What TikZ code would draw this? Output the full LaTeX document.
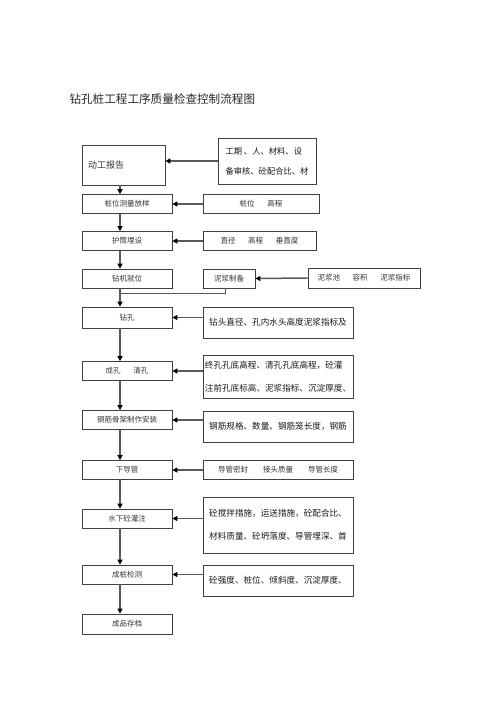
\documentclass[tikz,border=0pt]{standalone}
\usepackage{fontspec}
\newfontfamily\cjk{Noto Sans CJK SC}
\usetikzlibrary{arrows.meta}
\begin{document}
\begin{tikzpicture}[x=1pt,y=-1pt,
  proc/.style={draw=black!75, line width=0.7pt, minimum width=90pt, minimum height=19pt, inner sep=0pt, font=\cjk\fontsize{7.5}{9}\selectfont, text=black!80},
  chk/.style={draw=black!75, line width=0.7pt, minimum width=150pt, inner sep=0pt, align=left, font=\cjk\fontsize{8.6}{23}\selectfont, text=black!90},
  smallchk/.style={chk, font=\cjk\fontsize{7.5}{9}\selectfont, text=black!80},
  arr/.style={draw=black!65, line width=1.5pt, -{Triangle[length=5pt,width=5pt,color=black]}},
  lnk/.style={draw=black!65, line width=1pt}]
\useasboundingbox (0,0) rectangle (500,707);
\node[anchor=west, font=\cjk\fontsize{11.6}{14}\selectfont, text=black!85] (title) at (66,99) {钻孔桩工程工序质量检查控制流程图};
% left column
\node[proc, minimum width=83pt, minimum height=40pt, text width=71pt, align=left, font=\cjk\fontsize{9}{11}\selectfont] (s1) at (123.5,165) {动工报告};
\node[proc] (s2) at (127,204) {桩位测量放样};
\node[proc] (s3) at (127,241) {护筒埋设};
\node[proc] (s4) at (127,278.5) {钻机就位};
\node[proc, minimum height=21pt] (s5) at (127,317.5) {钻孔};
\node[proc] (s6) at (127,371) {成孔\hspace{1.7em}清孔};
\node[proc] (s7) at (127,420) {钢筋骨架制作安装};
\node[proc] (s8) at (127,470) {下导管};
\node[proc] (s9) at (127,518.5) {水下砼灌注};
\node[proc] (s10) at (127,574.5) {成桩检测};
\node[proc, minimum height=20pt] (s11) at (127,624) {成品存档};
% checks
\node[chk, minimum width=98pt, minimum height=46pt, font=\cjk\fontsize{8.3}{20}\selectfont] (c1) at (267,161) {工期~、人、材料、设\\备审核、砼配合比、材};
\node[smallchk, minimum width=116pt, minimum height=19pt] (c2) at (261,204) {桩位\hspace{1.7em}高程};
\node[smallchk, minimum width=113pt, minimum height=19pt] (c3) at (259.5,241) {直径\hspace{1.7em}高程\hspace{1.7em}垂直度};
\node[smallchk, minimum width=52pt, minimum height=19pt] (m4) at (229,278.5) {泥浆制备};
\node[smallchk, minimum width=112pt, minimum height=20pt] (c4) at (364,278) {泥浆池\hspace{1.7em}容积\hspace{1.7em}泥浆指标};
\node[chk, minimum height=31pt] (c5) at (278,322.5) {钻头直径、孔内水头高度泥浆指标及};
\node[chk, minimum height=43pt] (c6) at (278,376.5) {终孔孔底高程、清孔孔底高程，砼灌\\注前孔底标高、泥浆指标、沉淀厚度、};
\node[chk, minimum height=31pt] (c7) at (278,426.5) {钢筋规格、数量、钢筋笼长度，钢筋};
\node[smallchk, minimum height=19pt] (c8) at (278,470) {导管密封\hspace{2em}接头质量\hspace{2em}导管长度};
\node[chk, minimum height=56pt] (c9) at (278,525) {砼搅拌措施，运送措施，砼配合比、\\材料质量、砼坍落度、导管埋深、首};
\node[chk, minimum height=31pt] (c10) at (278,580.5) {砼强度、桩位、倾斜度、沉淀厚度、};
% main flow
\draw[arr] ([xshift=-3.5pt]s1.south) -- ([xshift=-7pt]s2.north);
\draw[arr] ([xshift=-7pt]s2.south) -- ([xshift=-7pt]s3.north);
\draw[arr] ([xshift=-7pt]s3.south) -- ([xshift=-7pt]s4.north);
\draw[arr] ([xshift=-7pt]s4.south) -- ([xshift=-7pt]s5.north);
\draw[arr] ([xshift=-7pt]s5.south) -- ([xshift=-7pt]s6.north);
\draw[arr] ([xshift=-7pt]s6.south) -- ([xshift=-7pt]s7.north);
\draw[arr] ([xshift=-7pt]s7.south) -- ([xshift=-7pt]s8.north);
\draw[arr] ([xshift=-7pt]s8.south) -- ([xshift=-7pt]s9.north);
\draw[arr] ([xshift=-7pt]s9.south) -- ([xshift=-7pt]s10.north);
\draw[arr] ([xshift=-7pt]s10.south) -- ([xshift=-7pt]s11.north);
% checks into steps
\draw[arr] (c1.west) -- (c1.west -| s1.east);
\draw[arr] (c2.west) -- (s2.east);
\draw[arr] (c3.west) -- (s3.east);
\draw[arr] (c4.west) -- (m4.east);
\draw[lnk] ([xshift=-4pt]m4.south) |- ([xshift=-7pt,yshift=-5pt]s4.south);
\draw[arr] (c5.west |- s5.east) -- (s5.east);
\draw[arr] (c6.west |- s6.east) -- (s6.east);
\draw[arr] (c7.west |- s7.east) -- (s7.east);
\draw[arr] (c8.west) -- (s8.east);
\draw[arr] (c9.west |- s9.east) -- (s9.east);
\draw[arr] (c10.west |- s10.east) -- (s10.east);
\end{tikzpicture}
\end{document}
